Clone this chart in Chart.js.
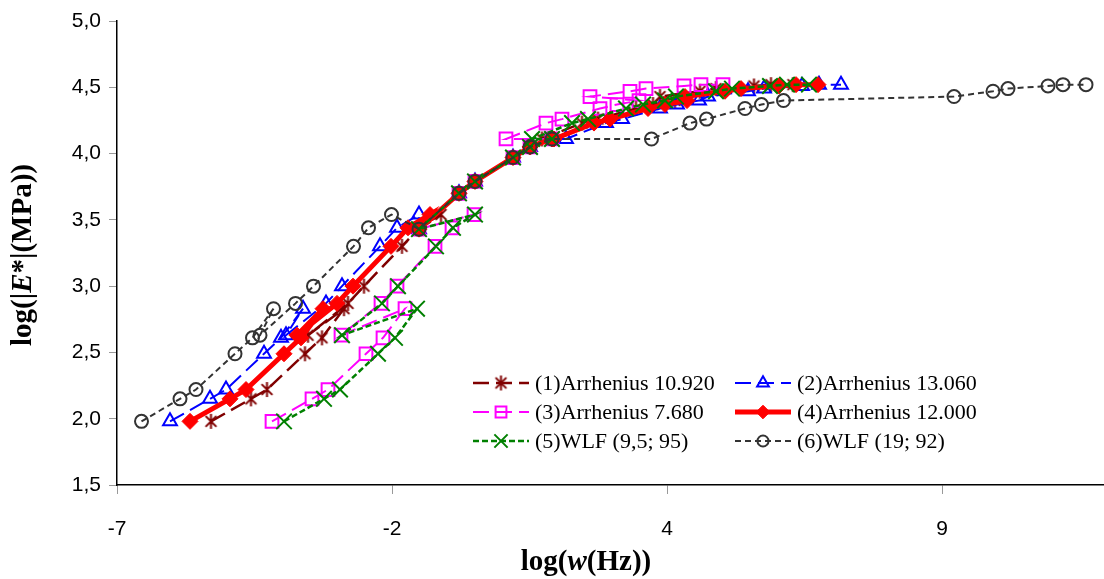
<!DOCTYPE html>
<html><head><meta charset="utf-8">
<script src="https://cdn.jsdelivr.net/npm/chart.js@4.4.1/dist/chart.umd.min.js"></script>
<style>html,body{margin:0;padding:0;background:#fff}#wrap{width:1104px;height:579px;position:relative}</style>
</head><body><div id="wrap"><canvas id="c" width="1104" height="579"></canvas></div>
<script>
// ---- DATA ----
const seriesNames = ['(1)Arrhenius 10.920','(2)Arrhenius 13.060','(3)Arrhenius 7.680','(4)Arrhenius 12.000','(5)WLF (9,5; 95)','(6)WLF (19; 92)'];

// log|E*| per isotherm (same measured moduli, shifted along log(w))
const logE_isoA   = [1.98, 2.15, 2.22, 2.49, 2.61, 2.83];
const logE_isoB   = [2.63, 2.87, 3.00, 3.30, 3.44, 3.54];
const logE_isoRef = [3.43, 3.70, 3.79, 3.97, 4.05, 4.11];
const logE_isoC   = [4.11, 4.23, 4.26, 4.34, 4.37, 4.40];
const logE_isoD   = [4.43, 4.47, 4.49, 4.51, 4.52, 4.52];

// reduced frequency log(w) for each series (isotherms A, B, ref, C, D)
const logW_s1 = [-5.32,-4.52,-4.20,-3.44,-3.10,-2.66, -3.38,-2.58,-2.26,-1.50,-1.16,-0.72, -1.16,-0.36,-0.04,0.72,1.06,1.50, 1.30,2.10,2.42,3.18,3.52,3.96, 3.66,4.46,4.78,5.54,5.88,6.32];
const logW_s2 = [-6.14,-5.34,-5.02,-4.26,-3.92,-3.48, -3.82,-3.02,-2.70,-1.94,-1.60,-1.16, -1.16,-0.36,-0.04,0.72,1.06,1.50, 1.78,2.58,2.90,3.66,4.00,4.44, 4.62,5.42,5.74,6.50,6.84,7.28];
const logW_s3 = [-4.10,-3.30,-2.98,-2.22,-1.88,-1.44, -2.72,-1.92,-1.60,-0.84,-0.50,-0.06, -1.16,-0.36,-0.04,0.72,1.06,1.50, 0.58,1.38,1.70,2.46,2.80,3.24, 2.26,3.06,3.38,4.14,4.48,4.92];
const logW_s4 = [-5.74,-4.94,-4.62,-3.86,-3.52,-3.08, -3.60,-2.80,-2.48,-1.72,-1.38,-0.94, -1.16,-0.36,-0.04,0.72,1.06,1.50, 1.54,2.34,2.66,3.42,3.76,4.20, 4.16,4.96,5.28,6.04,6.38,6.82];
const logW_s5 = [-3.86,-3.06,-2.74,-1.98,-1.64,-1.20, -2.70,-1.90,-1.58,-0.82,-0.48,-0.04, -1.16,-0.36,-0.04,0.72,1.06,1.50, 1.10,1.90,2.22,2.98,3.32,3.76, 3.98,4.78,5.10,5.86,6.20,6.64];
const logW_s6 = [-6.71,-5.94,-5.62,-4.84,-4.49,-4.07, -4.34,-3.63,-3.27,-2.47,-2.17,-1.71, -1.16,-0.36,-0.04,0.72,1.06,1.50, 3.49,4.26,4.59,5.36,5.69,6.13, 9.54,10.32,10.62,11.42,11.72,12.18];

const xTickValues = [-7.2, -1.7, 3.8, 9.3];
const xTickLabels = ['-7', '-2', '4', '9'];
const yTickValues = [1.5, 2.0, 2.5, 3.0, 3.5, 4.0, 4.5, 5.0];
const yTickLabels = ['1,5', '2,0', '2,5', '3,0', '3,5', '4,0', '4,5', '5,0'];

// ---- BUILD ----
const logE = [].concat(logE_isoA, logE_isoB, logE_isoRef, logE_isoC, logE_isoD);
const allX = [logW_s1, logW_s2, logW_s3, logW_s4, logW_s5, logW_s6];
const pts = xs => xs.map((x, i) => ({x: x, y: logE[i]}));

function asteriskMarker(color, size, lw) {
  const c = document.createElement('canvas');
  c.width = size; c.height = size;
  const g = c.getContext('2d');
  g.strokeStyle = color; g.lineWidth = lw; g.lineCap = 'butt';
  const h = size / 2, r = size / 2 - 1, d = r * 0.72;
  g.beginPath();
  g.moveTo(h, h - r); g.lineTo(h, h + r);
  g.moveTo(h - d, h - d); g.lineTo(h + d, h + d);
  g.moveTo(h + d, h - d); g.lineTo(h - d, h + d);
  g.stroke();
  return c;
}

const styles = [
  {color:'#800000', width:2.5, dash:[16,7], pointStyle: asteriskMarker('#800000', 17, 2), radius:8, pbw:2, fill:'rgba(0,0,0,0)'},
  {color:'#0000FF', width:2,   dash:[16,7], pointStyle:'triangle', radius:8, pbw:2, fill:'rgba(0,0,0,0)'},
  {color:'#FF00FF', width:2,   dash:[16,7], pointStyle:'rect', radius:9, pbw:2, fill:'rgba(0,0,0,0)'},
  {color:'#FF0000', width:5,   dash:[],     pointStyle:'rectRot', radius:8, pbw:1, fill:'#FF0000'},
  {color:'#008000', width:2.5, dash:[6,3],  pointStyle:'crossRot', radius:11, pbw:2, fill:'rgba(0,0,0,0)'},
  {color:'#333333', width:2,   dash:[6,4],  pointStyle:'circle', radius:6.5, pbw:2, fill:'rgba(0,0,0,0)'}
];

const datasets = allX.map((xs, i) => ({
  label: seriesNames[i],
  data: pts(xs),
  showLine: true,
  borderColor: styles[i].color,
  borderWidth: styles[i].width,
  borderDash: styles[i].dash,
  pointStyle: styles[i].pointStyle,
  pointRadius: styles[i].radius,
  pointBorderColor: styles[i].color,
  pointBackgroundColor: styles[i].fill,
  pointBorderWidth: styles[i].pbw,
  backgroundColor: styles[i].fill,
  tension: 0,
  order: 5 - i,
  clip: false
}));

const customText = {
  id: 'customText',
  afterDraw(chart) {
    const ctx = chart.ctx;
    const H = Chart.helpers;
    // legend
    const rowsY = [383, 412, 441];
    const colX = [473, 735];
    chart.data.datasets.forEach((ds, i) => {
      const x0 = colX[i % 2], y = rowsY[Math.floor(i / 2)], x1 = x0 + 56;
      ctx.save();
      ctx.strokeStyle = ds.borderColor; ctx.lineWidth = ds.borderWidth;
      ctx.setLineDash(ds.borderDash); ctx.beginPath();
      ctx.moveTo(x0, y); ctx.lineTo(x1, y); ctx.stroke();
      ctx.setLineDash([]);
      ctx.strokeStyle = ds.pointBorderColor; ctx.fillStyle = ds.pointBackgroundColor;
      ctx.lineWidth = ds.pointBorderWidth;
      H.drawPoint(ctx, {pointStyle: ds.pointStyle, radius: ds.pointRadius * 0.85, rotation: 0, borderWidth: ds.pointBorderWidth}, (x0 + x1) / 2, y);
      ctx.fillStyle = '#000'; ctx.font = '22px "Liberation Serif"';
      ctx.textBaseline = 'middle'; ctx.textAlign = 'left';
      ctx.fillText(ds.label, x1 + 6, y + 1);
      ctx.restore();
    });
    // axis titles
    const drawParts = (parts, size) => {
      let w = 0;
      parts.forEach(p => { ctx.font = (p[1] ? 'italic ' : '') + 'bold ' + size + 'px "Liberation Serif"'; p.w = ctx.measureText(p[0]).width; w += p.w; });
      let x = -w / 2;
      parts.forEach(p => { ctx.font = (p[1] ? 'italic ' : '') + 'bold ' + size + 'px "Liberation Serif"'; ctx.fillText(p[0], x, 0); x += p.w; });
    };
    ctx.save();
    ctx.fillStyle = '#000'; ctx.textBaseline = 'alphabetic'; ctx.textAlign = 'left';
    ctx.translate(586, 570);
    drawParts([['log(', false], ['w', true], ['(Hz))', false]], 29);
    ctx.restore();
    ctx.save();
    ctx.fillStyle = '#000'; ctx.textBaseline = 'middle'; ctx.textAlign = 'left';
    ctx.translate(24, 255); ctx.rotate(-Math.PI / 2);
    drawParts([['log(|', false], ['E', true], ['*|(MPa))', false]], 29);
    ctx.restore();
  }
};

Chart.defaults.font.family = '"Liberation Sans", Arial, sans-serif';
new Chart(document.getElementById('c'), {
  type: 'scatter',
  data: {datasets: datasets},
  options: {
    responsive: false, animation: false, devicePixelRatio: 1,
    layout: {autoPadding: false, padding: {top: 21, right: 0, bottom: 0, left: 0}},
    plugins: {legend: {display: false}, tooltip: {enabled: false}},
    scales: {
      x: {
        type: 'linear', min: -7.2, max: 12.54,
        afterBuildTicks: (axis) => { axis.ticks = xTickValues.map(v => ({value: v})); },
        afterFit: (s) => { s.height = 94; },
        ticks: {color: '#000', font: {size: 21}, padding: 23, maxRotation: 0, autoSkip: false,
          callback: (v, i) => xTickLabels[i]},
        grid: {drawOnChartArea: false, drawTicks: true, tickLength: 9, color: '#999'},
        border: {color: '#000', width: 1.5}
      },
      y: {
        type: 'linear', min: 1.5, max: 5.0,
        afterBuildTicks: (axis) => { axis.ticks = yTickValues.map(v => ({value: v})); },
        afterFit: (s) => { s.width = 117; },
        ticks: {color: '#000', font: {size: 21}, padding: 8, autoSkip: false,
          callback: (v, i) => yTickLabels[i]},
        grid: {drawOnChartArea: false, drawTicks: true, tickLength: 8, color: '#999'},
        border: {color: '#000', width: 1.5}
      }
    }
  },
  plugins: [customText]
});
</script></body></html>
